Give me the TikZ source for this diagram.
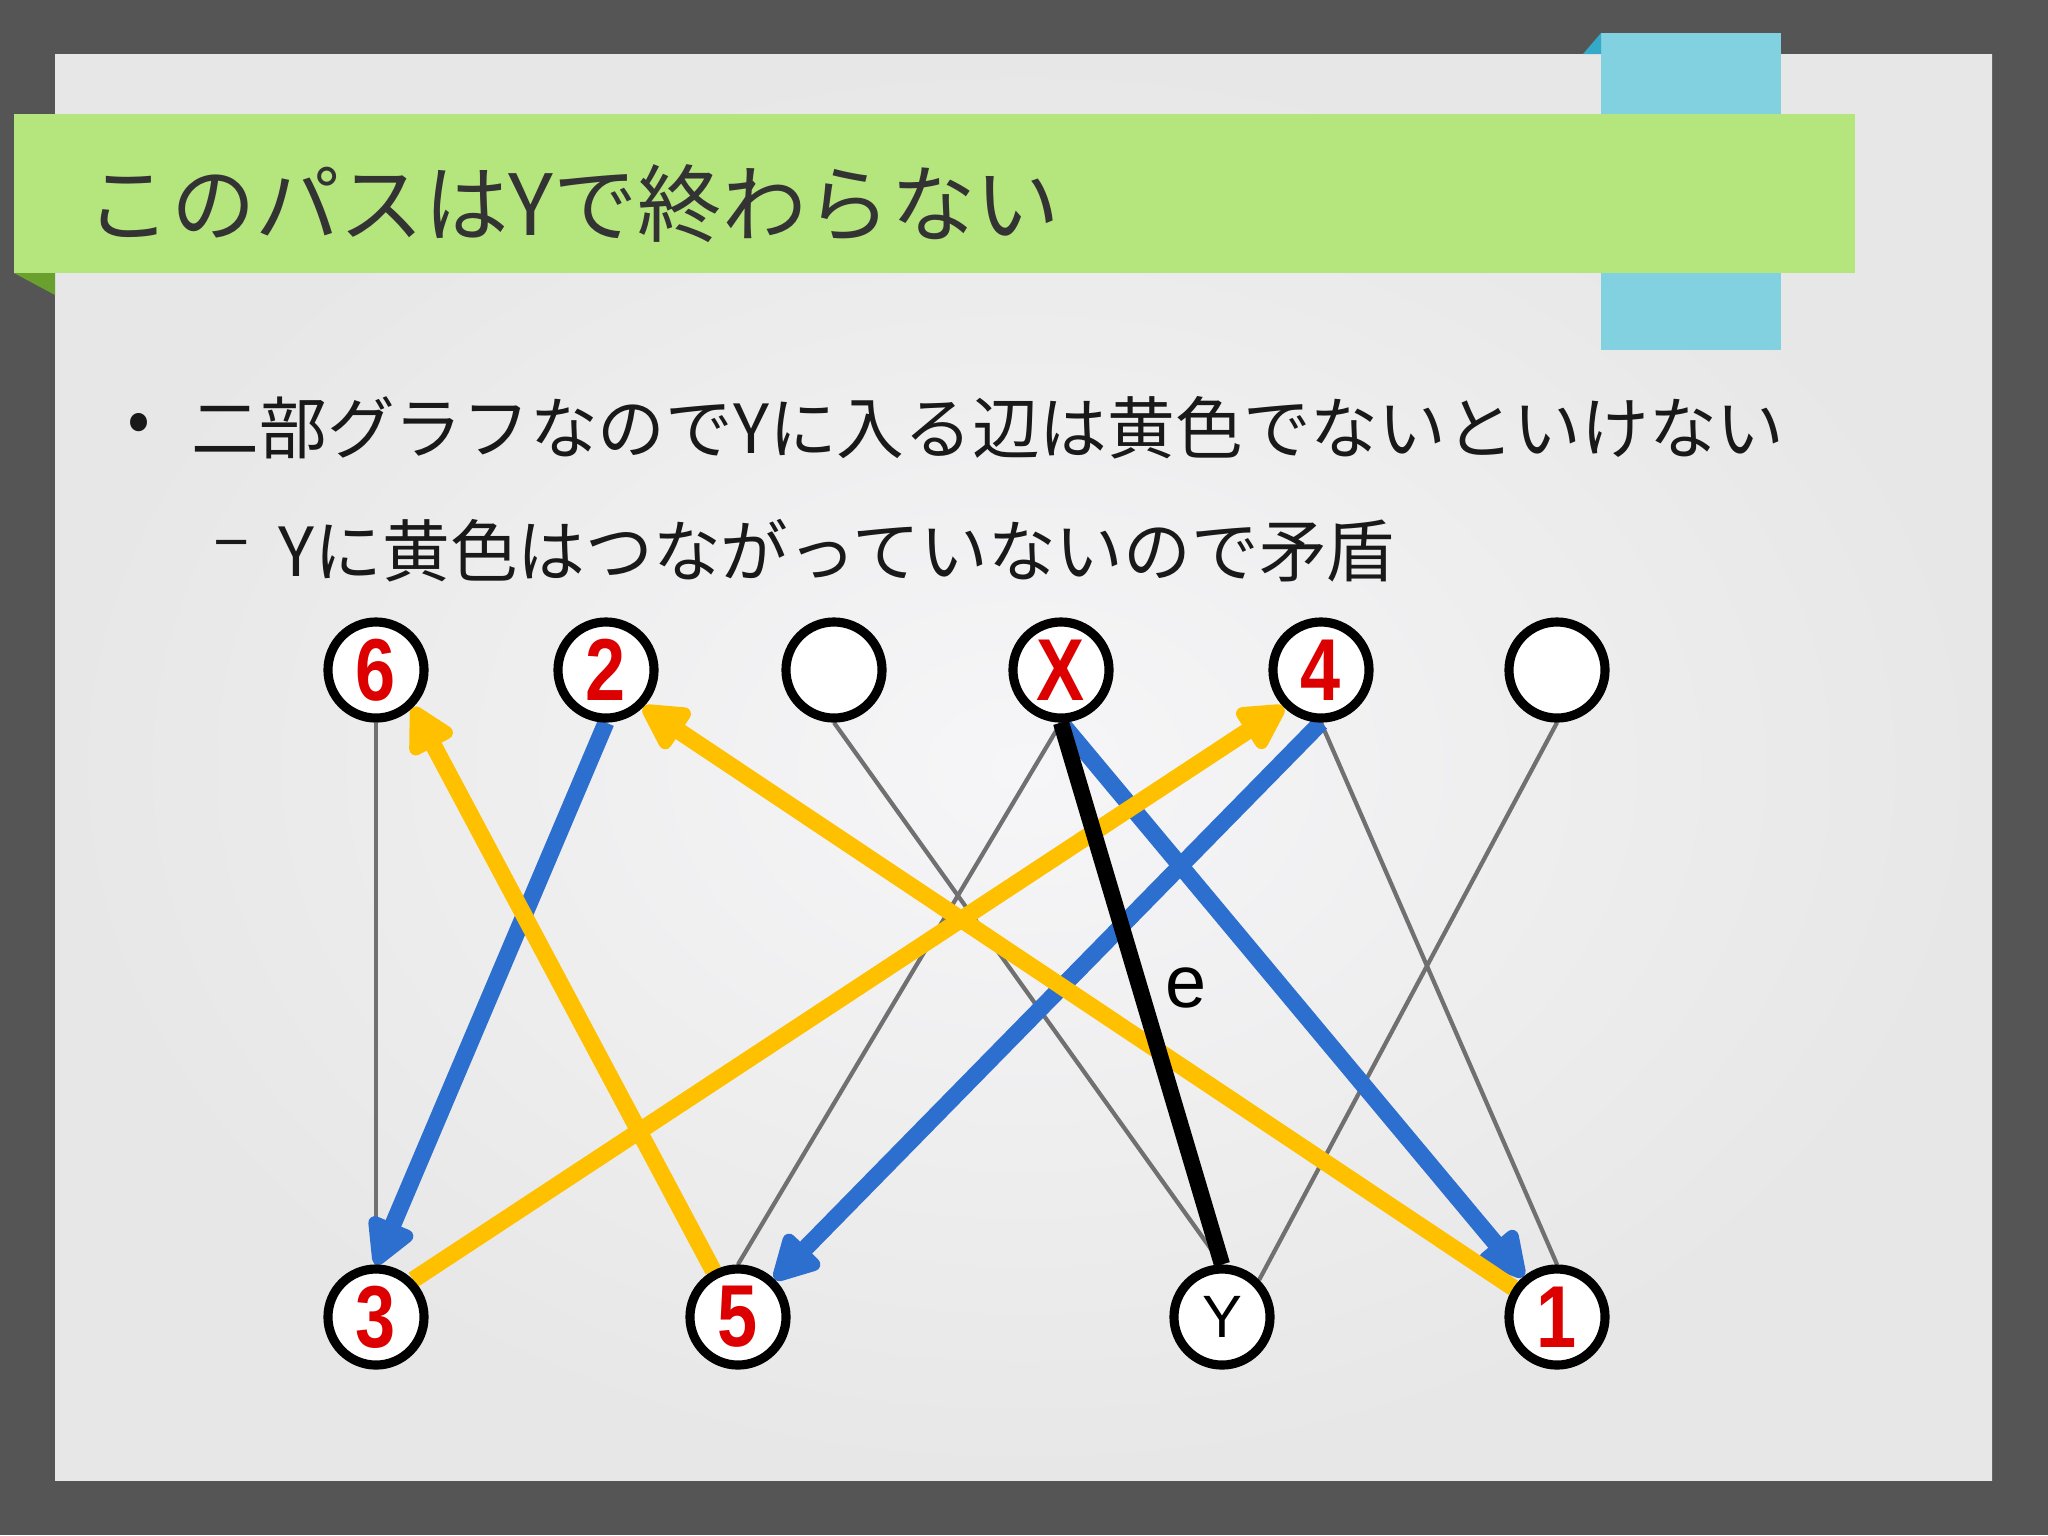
\documentclass[tikz,border=0pt]{standalone}
\usepackage{fontspec}
\usepackage{graphicx}
\usepackage{tikz}
\usetikzlibrary{arrows.meta,positioning}
\newfontfamily\jpfont{Noto Sans CJK JP}
\newfontfamily\arialfont{Liberation Sans}
\newcommand{\narrow}[1]{\scalebox{0.82}[1]{#1}}
\definecolor{framegray}{HTML}{555555}
\definecolor{slidein}{HTML}{F6F6F8}
\definecolor{slideout}{HTML}{E7E7E7}
\definecolor{bargreen}{HTML}{B5E67E}
\definecolor{foldgreen}{HTML}{6AA12E}
\definecolor{barcyan}{HTML}{82D1E0}
\definecolor{foldcyan}{HTML}{35A9C8}
\definecolor{titlegray}{HTML}{333333}
\definecolor{pathyellow}{HTML}{FFC000}
\definecolor{pathblue}{HTML}{2D6FCF}
\definecolor{numred}{HTML}{DD0000}
\definecolor{edgegray}{HTML}{707070}
\pgfdeclarelayer{back}
\pgfdeclarelayer{edges}
\pgfsetlayers{back,edges,main}
\tikzset{
  >={Triangle[length=15pt,width=15pt,round]},
  vert/.style    ={circle, draw=black, line width=2.6pt, fill=white, minimum size=0.96cm, inner sep=0pt},
  num/.style     ={vert, text=numred, font=\arialfont\bfseries\fontsize{25}{25}\selectfont},
  plainv/.style  ={vert, font=\arialfont\fontsize{17}{17}\selectfont},
  grayedge/.style={draw=edgegray, line width=1.2pt},
  bluearr/.style ={->, draw=pathblue, line width=4.8pt},
  yelarr/.style  ={->, draw=pathyellow, line width=4.8pt},
  keyedge/.style ={draw=black, line width=4.6pt},
  lbl/.style     ={inner sep=0pt, font=\arialfont\fontsize{21}{21}\selectfont},
  ttl/.style     ={anchor=west, inner sep=0pt, text=titlegray, font=\jpfont\fontsize{24}{27}\selectfont},
  body/.style    ={anchor=west, inner sep=0pt, text=black!90, font=\jpfont\fontsize{19.25}{22}\selectfont}
}
\begin{document}
\begin{tikzpicture}[x=0.01cm, y=-0.01cm]
\useasboundingbox (0,0) rectangle (2048,1535);
% slide
\begin{pgfonlayer}{back}
\fill[framegray] (0,0) rectangle (2048,1535);
\shade[inner color=slidein, outer color=slideout] (55,54) rectangle (1992,1480);
\fill[barcyan] (1601,33) rectangle (1781,350);
\fill[foldcyan] (1583,54) -- (1601,33) -- (1601,54) -- cycle;
\fill[bargreen] (14,114) rectangle (1855,273);
\fill[foldgreen] (14,273) -- (55,273) -- (55,295) -- cycle;
\end{pgfonlayer}

\node[ttl] (title) at (86,204) {このパスはYで終わらない};
\node[body] (dot1) at (127,428) {•};
\node[body] (line1) at (191,428) {二部グラフなのでYに入る辺は黄色でないといけない};
\node[body] (dash2) at (213,551) {–};
\node[body] (line2) at (278,551) {Yに黄色はつながっていないので矛盾};

% upper row
\node[num]  (n6) at (376,670) {\narrow{6}};
\node[num]  (n2) at (606,670) {\narrow{2}};
\node[vert] (b1) at (834,670) {};
\node[num]  (nX) at (1061,670) {\narrow{X}};
\node[num]  (n4) at (1321,670) {\narrow{4}};
\node[vert] (b2) at (1557,670) {};
% lower row
\node[num]    (n3) at (376,1317) {\narrow{3}};
\node[num]    (n5) at (738,1317) {\narrow{5}};
\node[plainv] (nY) at (1222,1317) {Y};
\node[num]    (n1) at (1557,1317) {\narrow{1}};

\begin{pgfonlayer}{edges}
\draw[grayedge] (n6.south) -- (n3.north);
\draw[grayedge] (b1.south) -- (nY.north);
\draw[grayedge] (nX.south) -- (n5.north);
\draw[grayedge] (n4.south) -- (n1.north);
\draw[grayedge] (b2.south) -- (nY.north east);
\draw[bluearr] (n2.south) -- (n3.north);
\draw[bluearr] (n4.south) -- (n5);
\draw[bluearr] (nX.south) -- (n1);
\draw[yelarr] (n3.north east) -- (n4.south west);
\draw[yelarr] (n5) -- (n6.south east);
\draw[yelarr] (n1) -- (n2.south east);
\draw[keyedge] (nX.south) -- node[lbl, pos=0.49, right=5pt] {e} (nY.north);
\end{pgfonlayer}
\end{tikzpicture}
\end{document}
